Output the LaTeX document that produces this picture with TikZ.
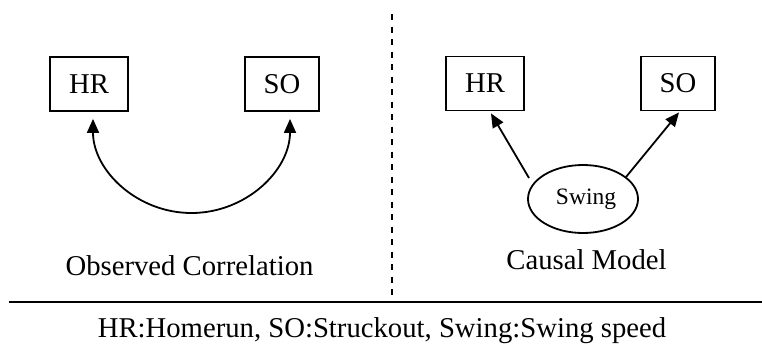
\documentclass[tikz,border=0pt]{standalone}
\usepackage{fontspec}
\setmainfont{Liberation Serif}
\usetikzlibrary{arrows.meta,shapes.geometric}
\begin{document}
\begin{tikzpicture}[x=1pt,y=-1pt,
  lw/.style={line width=1.8pt},
  varbox/.style={draw,lw,rectangle,inner sep=0pt,minimum height=54pt,font=\fontsize{28.7}{34}\selectfont},
  lbl/.style={anchor=base,inner sep=0pt,font=\fontsize{28.7}{34}\selectfont},
  arr/.style={lw,-{Triangle[length=14pt,width=12pt]}}
]
\useasboundingbox (0,0) rectangle (762,343);
% left panel
\node[varbox,minimum width=78pt] (hrL) at (89,84) {HR};
\node[varbox,minimum width=74pt] (soL) at (282,84) {SO};
\coordinate (tL) at ([xshift=4pt,yshift=-7pt]hrL.south);
\coordinate (tR) at ([xshift=8pt,yshift=-7pt]soL.south);
\draw[lw,{Triangle[length=14pt,width=12pt]}-{Triangle[length=14pt,width=12pt]}]
  (tL) .. controls (93,170.5) and (137.1,213) .. (191.5,213)
       .. controls (245.9,213) and (290,170.5) .. (tR);
\node[lbl] (obs) at (189.5,275) {Observed Correlation};
% right panel
\node[varbox,minimum width=78pt] (hrR) at (485,83.5) {HR};
\node[varbox,minimum width=74pt] (soR) at (678,83.5) {SO};
\node[draw,lw,ellipse,inner sep=0pt,minimum width=110pt,minimum height=68pt,
      font=\fontsize{23.5}{28}\selectfont] (sw) at (583,199) {\hspace{6pt}Swing};
\draw[arr] ([shift={(-54,-21)}]sw.center) -- ([xshift=6pt,yshift=-2pt]hrR.south);
\draw[arr] ([shift={(43,-22)}]sw.center) -- ([xshift=1pt,yshift=-1pt]soR.south);
\node[lbl] (cau) at (586.5,269) {Causal Model};
% separators
\coordinate (dtop) at (392,14);
\coordinate (dbot) at (392,302);
\draw[line width=1.8pt,dash pattern=on 6pt off 6.5pt] (dtop) -- (dbot);
\coordinate (hl) at (9,302);
\coordinate (hr) at (762,302);
\draw[line width=2.2pt] (hl) -- (hr);
\node[lbl] (leg) at (382,337) {HR:Homerun, SO:Struckout, Swing:Swing speed};
\end{tikzpicture}
\end{document}
